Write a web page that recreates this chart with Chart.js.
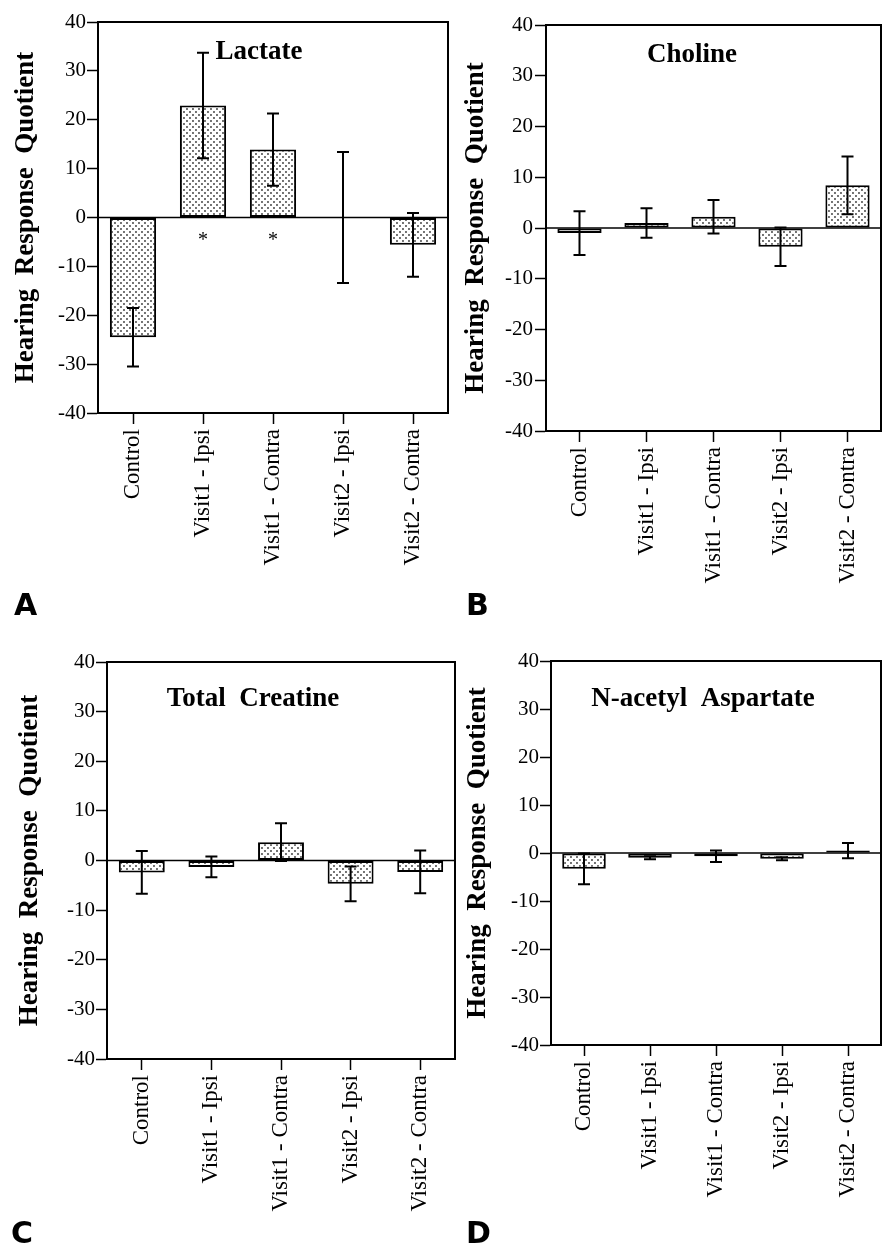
<!DOCTYPE html>
<html>
<head>
<meta charset="utf-8">
<script src="https://cdn.jsdelivr.net/npm/chart.js@4.4.1/dist/chart.umd.min.js"></script>
<style>
body{margin:0;background:#fff;width:888px;height:1246px;position:relative;overflow:hidden}
canvas{position:absolute}
.tag{position:absolute;font-family:"DejaVu Sans",sans-serif;font-weight:bold;font-size:30px;line-height:1;color:#000}
</style>
</head>
<body>
<canvas id="cA" width="452" height="600" style="left:0;top:0"></canvas>
<canvas id="cB" width="444" height="600" style="left:444px;top:0"></canvas>
<canvas id="cC" width="460" height="606" style="left:0;top:640px"></canvas>
<canvas id="cD" width="444" height="606" style="left:444px;top:640px"></canvas>
<div class="tag" style="left:14px;top:590px">A</div>
<div class="tag" style="left:466px;top:590px">B</div>
<div class="tag" style="left:11px;top:1218px">C</div>
<div class="tag" style="left:466px;top:1218px">D</div>
<script>
// groups on the x axis
const categories=['Control','Visit1 - Ipsi','Visit1 - Contra','Visit2 - Ipsi','Visit2 - Contra'];
const yTicks=[-40,-30,-20,-10,0,10,20,30,40];

// mean and error (half length of the bar) per metabolite
const lactateMean=[-24.5,22.9,13.9,0,-5.6];
const lactateErr=[6.0,10.8,7.4,13.4,6.5];
const lactateStars=[false,true,true,false,false];
const cholineMean=[-1.0,1.0,2.2,-3.7,8.4];
const cholineErr=[4.3,2.9,3.3,3.8,5.7];
const creatineMean=[-2.4,-1.3,3.7,-4.7,-2.3];
const creatineErr=[4.3,2.1,3.8,3.5,4.3];
const naaMean=[-3.3,-1.0,-0.7,-1.2,0.5];
const naaErr=[3.2,0.3,1.2,0.3,1.6];

Chart.defaults.font.family='"Liberation Serif","Times New Roman",serif';
Chart.defaults.color='#000';

function dots(){
  const c=document.createElement('canvas');c.width=6;c.height=6;
  const g=c.getContext('2d');
  g.fillStyle='#fff';g.fillRect(0,0,6,6);
  g.fillStyle='#333';
  g.beginPath();g.arc(1,1,0.9,0,Math.PI*2);g.arc(4,4,0.9,0,Math.PI*2);g.fill();
  return g.createPattern(c,'repeat');
}

// zero line, error bars, frame, title and stars
const decor={
  id:'decor',
  afterDatasetsDraw(chart,args,o){
    const {ctx,chartArea:a,scales:{x,y}}=chart;
    ctx.save();
    ctx.strokeStyle='#000';
    ctx.lineWidth=1.5;
    const y0=y.getPixelForValue(0);
    ctx.beginPath();ctx.moveTo(a.left,y0);ctx.lineTo(a.right,y0);ctx.stroke();
    ctx.lineWidth=2;
    o.err.forEach((e,i)=>{
      const px=x.getPixelForValue(i);
      const hi=y.getPixelForValue(o.mean[i]+e),lo=y.getPixelForValue(o.mean[i]-e);
      ctx.beginPath();
      ctx.moveTo(px,hi);ctx.lineTo(px,lo);
      ctx.moveTo(px-6,hi);ctx.lineTo(px+6,hi);
      ctx.moveTo(px-6,lo);ctx.lineTo(px+6,lo);
      ctx.stroke();
    });
    ctx.strokeRect(a.left,a.top,a.width,a.height);
    ctx.fillStyle='#000';
    ctx.textAlign='center';ctx.textBaseline='middle';
    ctx.font='bold 27px "Liberation Serif"';
    ctx.fillText(o.title,a.left+o.tx,a.top+o.ty);
    if(o.stars){
      ctx.font='20px "Liberation Serif"';
      o.stars.forEach((s,i)=>{ if(s) ctx.fillText('*',x.getPixelForValue(i),y.getPixelForValue(-4.8)); });
    }
    ctx.restore();
  }
};

function panel(id,mean,err,p){
  new Chart(document.getElementById(id),{
    type:'bar',
    data:{labels:categories,datasets:[{
      data:mean,backgroundColor:dots(),borderColor:'#000',borderWidth:2,
      borderSkipped:false,barPercentage:0.66,categoryPercentage:1
    }]},
    options:{
      responsive:false,animation:false,
      layout:{padding:{top:p.top,right:p.right,left:0,bottom:0}},
      plugins:{legend:{display:false},tooltip:{enabled:false},
        decor:{mean:mean,err:err,title:p.title,tx:p.tx,ty:p.ty,stars:p.stars}},
      scales:{
        x:{
          grid:{offset:false,drawOnChartArea:false,tickLength:11,tickColor:'#000',tickWidth:1.5},
          border:{color:'#000',width:2},
          ticks:{font:{size:23},minRotation:90,maxRotation:90,autoSkip:false,padding:5},
          afterFit(s){s.height=p.xh;}
        },
        y:{
          min:-40,max:40,
          afterBuildTicks(s){s.ticks=yTicks.map(v=>({value:v}));},
          grid:{drawOnChartArea:false,tickLength:11,tickColor:'#000',tickWidth:1.5},
          border:{color:'#000',width:2},
          ticks:{font:{size:21},padding:p.tp},
          title:{display:true,text:'Hearing  Response  Quotient',font:{size:27,weight:'bold'},padding:{top:p.yp,bottom:0}},
          afterFit(s){s.width=p.yw;}
        }
      }
    },
    plugins:[decor]
  });
}

panel('cA',lactateMean,lactateErr,{top:22,right:4,xh:187,yw:98,tp:1,yp:10,title:'Lactate',tx:161,ty:30,stars:lactateStars});
panel('cB',cholineMean,cholineErr,{top:25,right:7,xh:169,yw:102,tp:2,yp:16,title:'Choline',tx:146,ty:30});
panel('cC',creatineMean,creatineErr,{top:22,right:5,xh:187,yw:107,tp:1,yp:14,title:'Total  Creatine',tx:146,ty:37});
panel('cD',naaMean,naaErr,{top:21,right:7,xh:201,yw:107,tp:1,yp:18,title:'N-acetyl  Aspartate',tx:152,ty:38});
</script>
</body>
</html>
